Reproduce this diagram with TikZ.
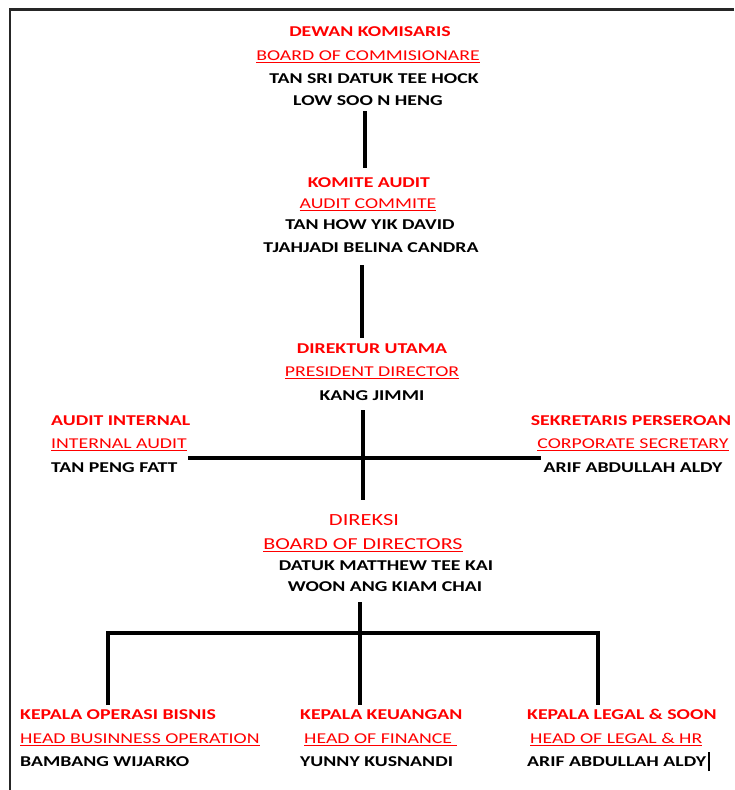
\documentclass[tikz,border=0pt]{standalone}
\usepackage{fontspec}
\setmainfont{Carlito}[FakeStretch=1.32]
\newcommand{\garisBawah}[1]{\setbox0\hbox{#1}\rlap{\color{red}\rule[-3pt]{\wd0}{1.3pt}}\box0}
\tikzset{judul/.style={text=red, inner sep=0pt, anchor=base,
			font=\bfseries\fontsize{15}{18}\selectfont},
		inggris/.style={text=red, inner sep=0pt, anchor=base,
			font=\fontsize{15}{18}\selectfont},
		nama/.style={text=black, inner sep=0pt, anchor=base,
			font=\bfseries\fontsize{15}{18}\selectfont},
		garis/.style={line width=4pt}}

\begin{document}
\begin{tikzpicture}[x=1pt,y=-1pt]
		\useasboundingbox (0,0) rectangle (734,790);
		\draw[line width=2.5pt,black!85] (734,9.5) -- (10,9.5) -- (10,790);
		
		% dewan komisaris
		\node (nodeDk) at (370,36) [judul] {DEWAN KOMISARIS};
		\node (nodeBoc) at (368,60) [inggris] {\garisBawah{BOARD OF COMMISIONARE}};
		\node (nodeTee) at (374,83) [nama] {TAN SRI DATUK TEE HOCK};
		\node (nodeLow) at (368,105) [nama] {LOW SOO N HENG};
		
		% komite audit
		\node (nodeKa) at (369,187) [judul] {KOMITE AUDIT};
		\node (nodeAc) at (368,208) [inggris] {\garisBawah{AUDIT COMMITE}};
		\node (nodeTan) at (370,229) [nama] {TAN HOW YIK DAVID};
		\node (nodeTja) at (371,252) [nama] {TJAHJADI BELINA CANDRA};
		
		% direktur utama
		\node (nodeDu) at (372,353) [judul] {DIREKTUR UTAMA};
		\node (nodePd) at (372,376) [inggris] {\garisBawah{PRESIDENT DIRECTOR}};
		\node (nodeKang) at (372,400) [nama] {KANG JIMMI};
		
		% audit internal & sekretaris
		\node (nodeAi) at (51,425) [judul,anchor=base west] {AUDIT INTERNAL};
		\node (nodeIa) at (51,448) [inggris,anchor=base west] {\garisBawah{INTERNAL AUDIT}};
		\node (nodePeng) at (51,472) [nama,anchor=base west] {TAN PENG FATT};
		\node (nodeSp) at (631,425) [judul] {SEKRETARIS PERSEROAN};
		\node (nodeCs) at (633,448) [inggris] {\garisBawah{CORPORATE SECRETARY}};
		\node (nodeArifA) at (633,472) [nama] {ARIF ABDULLAH ALDY};
		
		% direksi
		\node (nodeDir) at (364,525) [inggris,font=\fontsize{17}{20}\selectfont] {DIREKSI};
		\node (nodeBod) at (363,549) [inggris,font=\fontsize{16.7}{20}\selectfont] {\garisBawah{BOARD OF DIRECTORS}};
		\node (nodeMat) at (386,570) [nama] {DATUK MATTHEW TEE KAI};
		\node (nodeWoon) at (385,591) [nama] {WOON ANG KIAM CHAI};
		
		% kepala
		\node (nodeKob) at (20,719) [judul,anchor=base west] {KEPALA OPERASI BISNIS};
		\node (nodeHbo) at (20,743) [inggris,anchor=base west] {\garisBawah{HEAD BUSINNESS OPERATION}};
		\node (nodeBam) at (20,766) [nama,anchor=base west] {BAMBANG WIJARKO};
		\node (nodeKk) at (300,719) [judul,anchor=base west] {KEPALA KEUANGAN};
		\node (nodeHof) at (304,743) [inggris,anchor=base west] {\garisBawah{HEAD OF FINANCE\ }};
		\node (nodeYun) at (300,766) [nama,anchor=base west] {YUNNY KUSNANDI};
		\node (nodeKl) at (527,719) [judul,anchor=base west] {KEPALA LEGAL \& SOON};
		\node (nodeHol) at (530,743) [inggris,anchor=base west] {\garisBawah{HEAD OF LEGAL \& HR}};
		\node (nodeArifB) at (527,766) [nama,anchor=base west] {ARIF ABDULLAH ALDY};
		\draw[line width=2pt] (nodeArifB.base east) ++(3,5) -- ++(0,-19);
		
		% garis penghubung
		\coordinate (atasA) at (365,111);
		\coordinate (bawahA) at (365,168);
		\coordinate (atasB) at (362,265);
		\coordinate (bawahB) at (362,338);
		\coordinate (atasC) at (363,410);
		\coordinate (bawahC) at (363,500);
		\coordinate (kiriC) at (188,458);
		\coordinate (kananC) at (541,458);
		\coordinate (atasD) at (360,602);
		\coordinate (simpangD) at (360,633);
		\coordinate (kiriD) at (108,633);
		\coordinate (kananD) at (598,633);
		\draw[garis] (atasA) -- (bawahA);
		\draw[garis] (atasB) -- (bawahB);
		\draw[garis] (atasC) -- (bawahC);
		\draw[garis] (kiriC) -- (kananC);
		\draw[garis] (atasD) -- (simpangD |- 0,705);
		\draw[garis] (kiriD |- 0,705) -- (kiriD) -- (kananD) -- (kananD |- 0,705);
\end{tikzpicture}
\end{document}
